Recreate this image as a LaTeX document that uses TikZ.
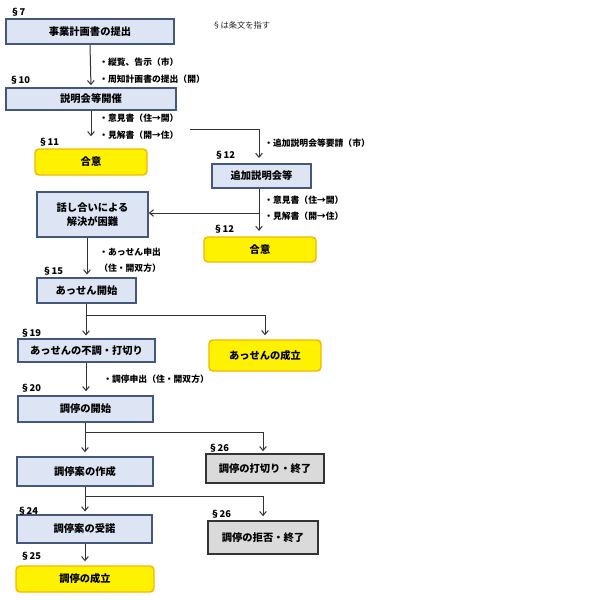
\documentclass[tikz,border=0pt]{standalone}
\usepackage{fontspec}
\setmainfont{Noto Sans CJK JP}
\usetikzlibrary{arrows.meta}
\definecolor{boxblue}{HTML}{44597A}
\definecolor{boxfill}{HTML}{DDE5F5}
\definecolor{yelborder}{HTML}{F2B800}
\definecolor{boxgray}{HTML}{DADADA}
\tikzset{
  px/.style={x=0.75pt,y=-0.75pt},
  bluebox/.style={draw=boxblue,fill=boxfill,line width=1.2pt,inner sep=0pt,font=\fontsize{7.7}{9}\selectfont\bfseries,align=center},
  yelbox/.style={draw=yelborder,fill=yellow,line width=1.1pt,rounded corners=3pt,inner sep=0pt,font=\fontsize{7.7}{9}\selectfont\bfseries,align=center},
  graybox/.style={draw=black!80,fill=boxgray,line width=1.2pt,inner sep=0pt,font=\fontsize{7.7}{9}\selectfont\bfseries,align=center},
  lbl/.style={anchor=west,inner sep=0pt,font=\fontsize{6.6}{8}\selectfont\bfseries},
  sec/.style={anchor=west,inner sep=0pt,font=\fontsize{7}{8}\selectfont\bfseries},
  conn/.style={draw=black!80,line width=0.75pt},
  arr/.style={conn,-{Straight Barb[length=3pt,width=5pt]}},
}
\begin{document}
\begin{tikzpicture}[px]
\useasboundingbox (0,0) rectangle (590,600);
\fill[white] (0,0) rectangle (590,600);
% boxes
\node[bluebox,minimum width=126pt,minimum height=18.75pt] (b1) at (90,31.5) {事業計画書の提出};
\node[bluebox,minimum width=127.5pt,minimum height=16.5pt] (b2) at (91,99) {説明会等開催};
\node[yelbox,minimum width=84pt,minimum height=19.5pt] (g1) at (91,162) {合意};
\node[bluebox,minimum width=74.25pt,minimum height=18pt] (t1) at (261.5,176) {追加説明会等};
\node[bluebox,minimum width=83.25pt,minimum height=33.75pt] (h1) at (92.5,214.5) {話し合いによる\\[2pt]解決が困難};
\node[yelbox,minimum width=84pt,minimum height=18.75pt] (g2) at (260,249.5) {合意};
\node[bluebox,minimum width=74.25pt,minimum height=18.75pt] (a1) at (86.5,290.5) {あっせん開始};
\node[bluebox,minimum width=102.75pt,minimum height=17.25pt] (f1) at (86.5,350.5) {あっせんの不調・打切り};
\node[yelbox,minimum width=84pt,minimum height=23.25pt] (as) at (265,355.5) {あっせんの成立};
\node[bluebox,minimum width=101.25pt,minimum height=19.5pt] (c1) at (85.5,409) {調停の開始};
\node[graybox,minimum width=88.5pt,minimum height=21.75pt] (u1) at (265,468.5) {調停の打切り・終了};
\node[bluebox,minimum width=102pt,minimum height=21.75pt] (s1) at (85,471.5) {調停案の作成};
\node[bluebox,minimum width=101.25pt,minimum height=21pt] (j1) at (84.5,529) {調停案の受諾};
\node[graybox,minimum width=82.5pt,minimum height=24.75pt] (k1) at (263,537.5) {調停の拒否・終了};
\node[yelbox,minimum width=103.5pt,minimum height=19.5pt] (cs) at (85,579) {調停の成立};
% section labels
\node[sec] (s7) at (10,12) {§7};
\node[anchor=west,inner sep=0pt,font=\fontsize{6.2}{8}\selectfont,text=black!85] (note) at (212,25) {§は条文を指す};
\node[sec] (s10) at (9,80) {§10};
\node[sec] (s11) at (38,142) {§11};
\node[sec] (s12a) at (214,155) {§12};
\node[sec] (s12b) at (213,229) {§12};
\node[sec] (s15) at (42,271) {§15};
\node[sec] (s19) at (20,333) {§19};
\node[sec] (s20) at (20,388) {§20};
\node[sec] (s26a) at (208,448) {§26};
\node[sec] (s24) at (17,511) {§24};
\node[sec] (s26b) at (210,514) {§26};
\node[sec] (s25) at (20,556) {§25};
% edge labels
\node[lbl] (l1) at (99,62) {・縦覧、告示（市）};
\node[lbl] (l2) at (99,79) {・周知計画書の提出（開）};
\node[lbl] (l3) at (99,118) {・意見書（住→開）};
\node[lbl] (l4) at (99,135) {・見解書（開→住）};
\node[lbl] (l5) at (264,143) {・追加説明会等要請（市）};
\node[lbl] (l6) at (264,200) {・意見書（住→開）};
\node[lbl] (l7) at (264,216) {・見解書（開→住）};
\node[lbl] (l8) at (99,252) {・あっせん申出};
\node[lbl] (l9) at (99,268) {（住・開双方）};
\node[lbl] (l10) at (103,379) {・調停申出（住・開双方）};
% connectors
\coordinate (br2) at (190,129);
\coordinate (t1top) at (259,158);
\draw[arr,shorten >=1.5pt] (b1.south) -- (b2.north);
\draw[arr,shorten >=9pt] (b2.south) -- (g1.north);
\draw[conn] (br2) -- (259,129);
\draw[arr] (259,129) -- (t1top);
\draw[arr,shorten >=4pt] (t1.south -| 259,0) -- (g2.north -| 259,0);
\draw[arr] (259,213) -- (h1.east |- 0,213);
\draw[arr,shorten >=2pt] (h1.south -| 87,0) -- (a1.north -| 87,0);
\draw[arr,shorten >=2pt] (a1.south -| 86,0) -- (f1.north -| 86,0);
\draw[conn] (86,315) -- (265,315);
\draw[arr,shorten >=3pt] (265,315) -- (as.north);
\draw[arr,shorten >=3pt] (f1.south -| 86,0) -- (c1.north -| 86,0);
\draw[arr,shorten >=3pt] (c1.south -| 85,0) -- (s1.north -| 85,0);
\draw[conn] (85,432) -- (263,432);
\draw[arr,shorten >=1.5pt] (263,432) -- (u1.north -| 263,0);
\draw[arr,shorten >=2pt] (s1.south -| 85,0) -- (j1.north -| 85,0);
\draw[conn] (85,496) -- (263,496);
\draw[arr,shorten >=3pt] (263,496) -- (k1.north -| 263,0);
\draw[arr,shorten >=3pt] (j1.south -| 85,0) -- (cs.north -| 85,0);
\end{tikzpicture}
\end{document}
